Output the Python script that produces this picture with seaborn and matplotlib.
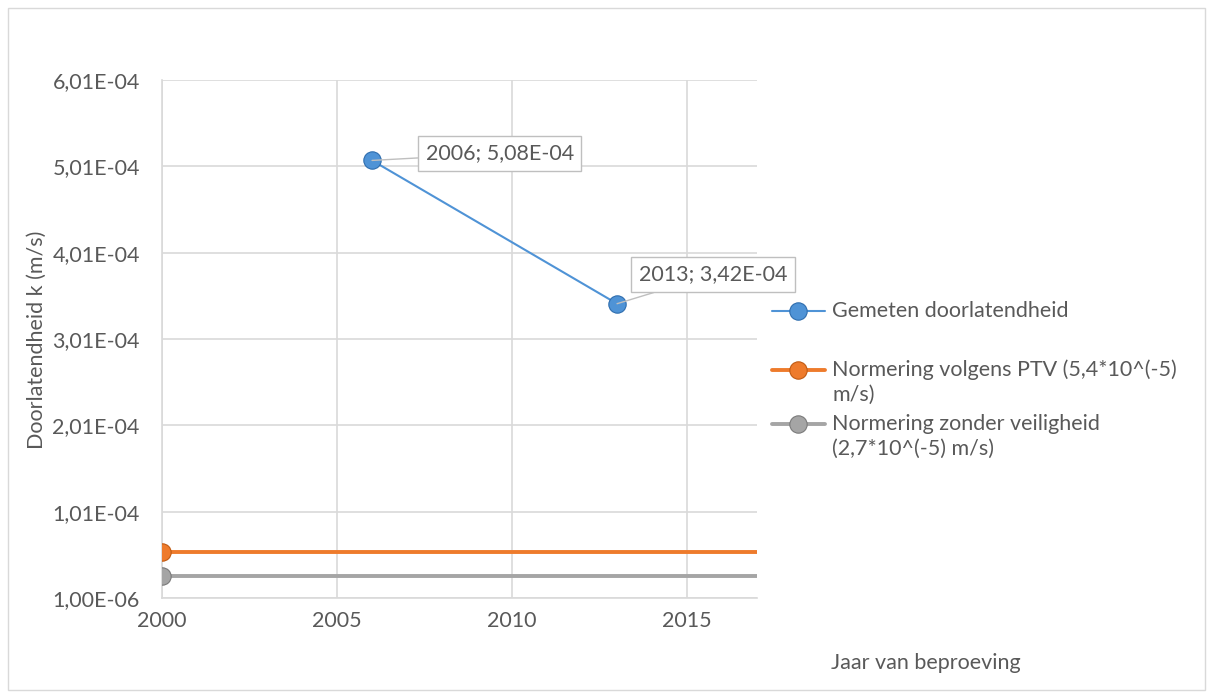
import matplotlib
matplotlib.use("Agg")
import matplotlib.pyplot as plt
from matplotlib.lines import Line2D
from matplotlib.patches import Rectangle
import pandas as pd
import seaborn as sns

# Measured permeability and the two reference norms
years_measured = [2006, 2013]
k_measured = [5.08e-4, 3.42e-4]
norm_years = [2000, 2017]
k_norm_ptv = [5.4e-5, 5.4e-5]
k_norm_no_safety = [2.7e-5, 2.7e-5]

series_names = [
    "Gemeten doorlatendheid",
    "Normering volgens PTV (5,4*10^(-5)\nm/s)",
    "Normering zonder veiligheid\n(2,7*10^(-5) m/s)",
]
colors = ["#4F93D6", "#EE7B2C", "#A5A5A5"]
edge_colors = ["#2E6DAE", "#C05A12", "#7A7A7A"]
line_widths = [1.5, 2.8, 2.8]

x_ticks = [2000, 2005, 2010, 2015]
y_ticks = [1.0e-6 + i * 1.0e-4 for i in range(7)]
x_label = "Jaar van beproeving"
y_label = "Doorlatendheid k (m/s)"

sns.set_style("white")
plt.rcParams["font.family"] = ["Lato", "DejaVu Sans"]
text_color = "#595959"
grid_color = "#D9D9D9"
fs = 15.5
msize = 12.5


def fmt_sci(v):
    return f"{v:.2E}".replace(".", ",")


fig = plt.figure(figsize=(12.13, 6.97), dpi=100)
ax = fig.add_axes([0.1336, 0.142, 0.4905, 0.743])

df_meas = pd.DataFrame({"jaar": years_measured, "k": k_measured})
df_ptv = pd.DataFrame({"jaar": norm_years, "k": k_norm_ptv})
df_nos = pd.DataFrame({"jaar": norm_years, "k": k_norm_no_safety})

sns.lineplot(data=df_nos, x="jaar", y="k", ax=ax, color=colors[2],
             linewidth=line_widths[2], marker="o", markersize=msize,
             markeredgecolor=edge_colors[2], markeredgewidth=0.8,
             markevery=[0], zorder=3)
sns.lineplot(data=df_ptv, x="jaar", y="k", ax=ax, color=colors[1],
             linewidth=line_widths[1], marker="o", markersize=msize,
             markeredgecolor=edge_colors[1], markeredgewidth=0.8,
             markevery=[0], zorder=3)
sns.lineplot(data=df_meas, x="jaar", y="k", ax=ax, color=colors[0],
             linewidth=line_widths[0], marker="o", markersize=msize,
             markeredgecolor=edge_colors[0], markeredgewidth=0.8, zorder=4)

ax.set_xlim(2000, 2017)
ax.set_ylim(y_ticks[0], y_ticks[-1])
ax.set_xticks(x_ticks)
ax.set_yticks(y_ticks)
ax.set_xticklabels([str(t) for t in x_ticks])
ax.set_yticklabels([fmt_sci(t) for t in y_ticks])
ax.tick_params(axis="both", length=0, labelsize=fs, colors=text_color)
ax.tick_params(axis="y", pad=16)
ax.tick_params(axis="x", pad=9)
ax.grid(True, color=grid_color, linewidth=1.2)
ax.set_axisbelow(True)
for side in ["top", "right"]:
    ax.spines[side].set_visible(False)
for side in ["left", "bottom"]:
    ax.spines[side].set_color(grid_color)
    ax.spines[side].set_linewidth(1.2)
ax.set_xlabel("")
ax.set_ylabel("")

# data labels
offsets = [(92, 5), (69, 21)]
for x, y, off in zip(years_measured, k_measured, offsets):
    ax.annotate(f"{x}; {fmt_sci(y)}", xy=(x, y), xytext=off,
                textcoords="offset points", ha="center", va="center",
                fontsize=fs, color=text_color,
                bbox=dict(boxstyle="square,pad=0.35", fc="white",
                          ec="#BFBFBF", lw=1.0),
                arrowprops=dict(arrowstyle="-", color="#BFBFBF", lw=1.0,
                                shrinkA=0, shrinkB=0),
                zorder=6)

fig.text(0.763, 0.049, x_label, ha="center", va="center",
         fontsize=fs, color=text_color)
fig.text(0.030, 0.512, y_label, ha="center", va="center",
         rotation=90, fontsize=fs, color=text_color)

# legend
W, H = 1213.0, 697.0
entry_rows = [311, 370, 424]
line_gap = 25
for name, c, ec, lw, row in zip(series_names, colors, edge_colors,
                                line_widths, entry_rows):
    yf = 1 - row / H
    fig.add_artist(Line2D([772 / W, 825 / W], [yf, yf], color=c,
                          linewidth=lw, transform=fig.transFigure))
    fig.add_artist(Line2D([798 / W], [yf], color=c, marker="o",
                          markersize=msize, markeredgecolor=ec,
                          markeredgewidth=0.8, transform=fig.transFigure))
    for i, part in enumerate(name.split("\n")):
        fig.text(832 / W, 1 - (row + i * line_gap) / H, part,
                 ha="left", va="center", fontsize=fs, color=text_color)

# chart border
fig.patches.append(Rectangle((8 / W, 7 / H), 1197 / W, 682 / H,
                             transform=fig.transFigure, fill=False,
                             edgecolor="#D9D9D9", linewidth=1.0))

fig.savefig("out.png", dpi=100, facecolor="white")
